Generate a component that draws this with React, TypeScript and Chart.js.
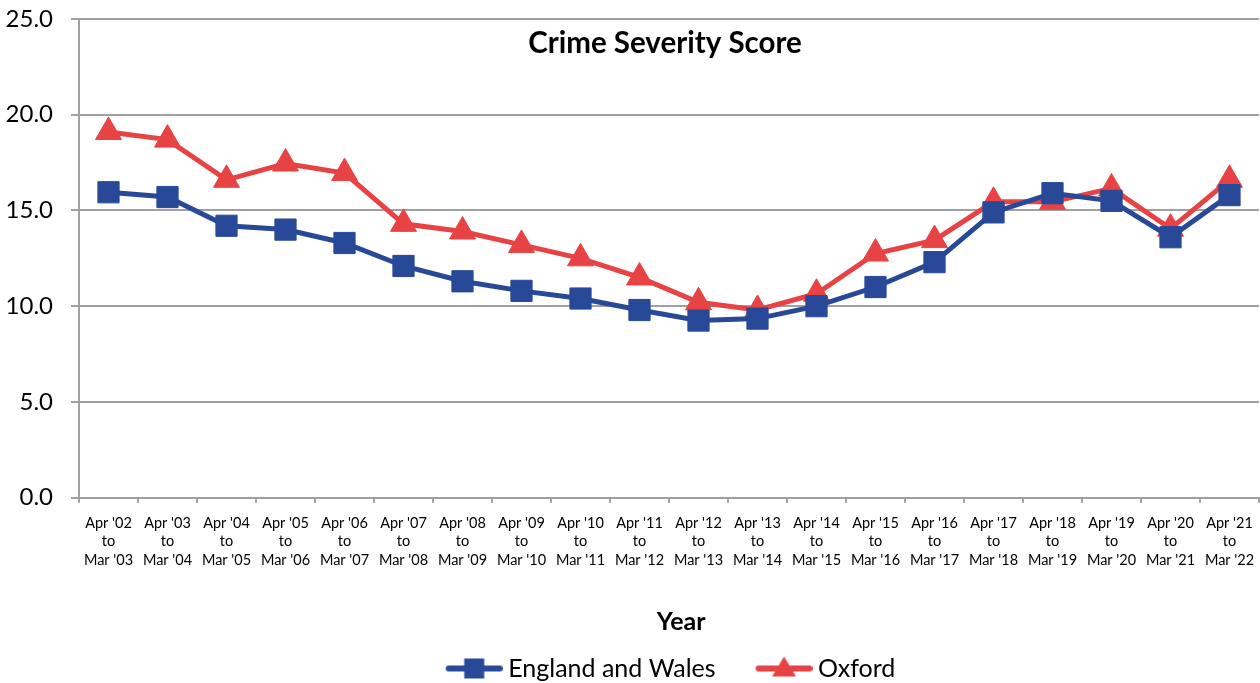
import React, { useEffect, useRef } from "react";
import { Chart, registerables } from "chart.js";

Chart.register(...registerables);

const categories: string[][] = [
  ["Apr '02", "to", "Mar '03"],
  ["Apr '03", "to", "Mar '04"],
  ["Apr '04", "to", "Mar '05"],
  ["Apr '05", "to", "Mar '06"],
  ["Apr '06", "to", "Mar '07"],
  ["Apr '07", "to", "Mar '08"],
  ["Apr '08", "to", "Mar '09"],
  ["Apr '09", "to", "Mar '10"],
  ["Apr '10", "to", "Mar '11"],
  ["Apr '11", "to", "Mar '12"],
  ["Apr '12", "to", "Mar '13"],
  ["Apr '13", "to", "Mar '14"],
  ["Apr '14", "to", "Mar '15"],
  ["Apr '15", "to", "Mar '16"],
  ["Apr '16", "to", "Mar '17"],
  ["Apr '17", "to", "Mar '18"],
  ["Apr '18", "to", "Mar '19"],
  ["Apr '19", "to", "Mar '20"],
  ["Apr '20", "to", "Mar '21"],
  ["Apr '21", "to", "Mar '22"],
];

const englandWales = [15.95, 15.7, 14.2, 14.0, 13.3, 12.1, 11.3, 10.8, 10.4, 9.8, 9.25, 9.35, 10.0, 11.0, 12.3, 14.9, 15.9, 15.5, 13.6, 15.8];
const oxford = [19.1, 18.7, 16.6, 17.45, 16.95, 14.3, 13.9, 13.2, 12.5, 11.5, 10.2, 9.8, 10.65, 12.75, 13.45, 15.45, 15.45, 16.15, 14.05, 16.6];

const seriesNames = ["England and Wales", "Oxford"];
const titleText = "Crime Severity Score";
const xTitle = "    Year";
const yTicks = { min: 0, max: 25, step: 5 };

const BLUE = "#284898";
const RED = "#e84344";
const GRID = "#a0a0a0";
const FONT = "Lato, 'Open Sans', sans-serif";
const LEGEND_SHIFT = 21;

// legend icon: transparent gap on the left, line with marker on the right
const ICON_BOX = 90;
const ICON_W = ICON_BOX + 14;
function legendIcon(color: string, shape: "rect" | "triangle"): HTMLCanvasElement {
  const c = document.createElement("canvas");
  c.width = ICON_W;
  c.height = 26;
  const ctx = c.getContext("2d")!;
  ctx.strokeStyle = color;
  ctx.fillStyle = color;
  ctx.lineWidth = 6;
  ctx.lineCap = "round";
  const x0 = ICON_W - 57 + 3;
  const x1 = ICON_W - 3;
  const cx = (x0 + x1) / 2;
  ctx.beginPath();
  ctx.moveTo(x0, 13);
  ctx.lineTo(x1, 13);
  ctx.stroke();
  if (shape === "rect") {
    ctx.fillRect(cx - 10, 3, 20, 20);
  } else {
    ctx.beginPath();
    ctx.moveTo(cx, 1);
    ctx.lineTo(cx + 12, 21);
    ctx.lineTo(cx - 12, 21);
    ctx.closePath();
    ctx.fill();
  }
  return c;
}

const insideTitle = {
  id: "insideTitle",
  afterDraw(chart: any) {
    const { ctx, chartArea } = chart;
    ctx.save();
    ctx.font = `bold 29.5px ${FONT}`;
    ctx.fillStyle = "#000";
    ctx.textAlign = "center";
    ctx.textBaseline = "middle";
    ctx.fillText(titleText, (chartArea.left + chartArea.right) / 2 - 4, chartArea.top + 24);
    ctx.restore();
  },
};

const legendShift = {
  id: "legendShift",
  afterLayout(chart: any) {
    if (chart.legend) {
      chart.legend.left += LEGEND_SHIFT;
      chart.legend.right += LEGEND_SHIFT;
    }
  },
};

export default function App() {
  const ref = useRef<HTMLCanvasElement>(null);
  useEffect(() => {
    if (!ref.current) return;
    const icons = [legendIcon(BLUE, "rect"), legendIcon(RED, "triangle")];
    const chart = new Chart(ref.current, {
      type: "line",
      data: {
        labels: categories,
        datasets: [
          {
            label: seriesNames[0],
            data: englandWales,
            borderColor: BLUE,
            backgroundColor: BLUE,
            borderWidth: 5,
            pointStyle: "rect",
            pointRadius: 15,
            pointBorderWidth: 1,
            pointBackgroundColor: BLUE,
            pointBorderColor: BLUE,
            tension: 0,
          },
          {
            label: seriesNames[1],
            data: oxford,
            borderColor: RED,
            backgroundColor: RED,
            borderWidth: 5,
            pointStyle: "triangle",
            pointRadius: 15,
            pointBorderWidth: 1,
            pointBackgroundColor: RED,
            pointBorderColor: RED,
            tension: 0,
          },
        ],
      },
      options: {
        responsive: false,
        animation: false,
        layout: { autoPadding: false, padding: { top: 19, right: 1, left: 0, bottom: -8 } },
        plugins: {
          title: { display: false },
          tooltip: { enabled: false },
          legend: {
            position: "bottom",
            labels: {
              usePointStyle: true,
              pointStyleWidth: ICON_BOX,
              padding: 0,
              color: "#000",
              font: { family: FONT, size: 25 },
              generateLabels: (ch: any) =>
                ch.data.datasets.map((ds: any, i: number) => ({
                  text: ds.label,
                  pointStyle: icons[i],
                  fillStyle: ds.borderColor,
                  strokeStyle: ds.borderColor,
                  lineWidth: 0,
                  datasetIndex: i,
                  hidden: false,
                })),
            },
          },
        },
        scales: {
          x: {
            type: "category",
            offset: true,
            grid: {
              offset: true,
              drawOnChartArea: false,
              drawTicks: true,
              tickLength: 5,
              color: GRID,
              lineWidth: 2,
            },
            border: { display: true, color: GRID, width: 2 },
            ticks: {
              autoSkip: false,
              maxRotation: 0,
              minRotation: 0,
              color: "#000",
              padding: 12,
              font: { family: FONT, size: 14.5, lineHeight: 1.25 },
            },
            title: {
              display: true,
              text: xTitle,
              color: "#000",
              font: { family: FONT, size: 25, weight: "bold" },
              padding: { top: 26, bottom: 19 },
            },
            afterFit: (s: any) => {
              s.paddingLeft = 0;
              s.paddingRight = 0;
            },
          },
          y: {
            min: yTicks.min,
            max: yTicks.max,
            grid: { color: GRID, lineWidth: 2, tickLength: 8 },
            border: { display: true, color: GRID, width: 2 },
            ticks: {
              stepSize: yTicks.step,
              color: "#000",
              padding: 18,
              font: { family: FONT, size: 24 },
              callback: (v: any) => Number(v).toFixed(1),
            },
            afterFit: (s: any) => {
              s.width = 79;
              s.paddingTop = 10;
              s.paddingBottom = 10;
            },
          },
        },
      },
      plugins: [insideTitle, legendShift],
    } as any);
    return () => chart.destroy();
  }, []);
  return (
    <div style={{ position: "fixed", left: 0, top: 0, width: 1260, height: 683, background: "#fff" }}>
      <canvas ref={ref} width={1260} height={683} />
    </div>
  );
}
